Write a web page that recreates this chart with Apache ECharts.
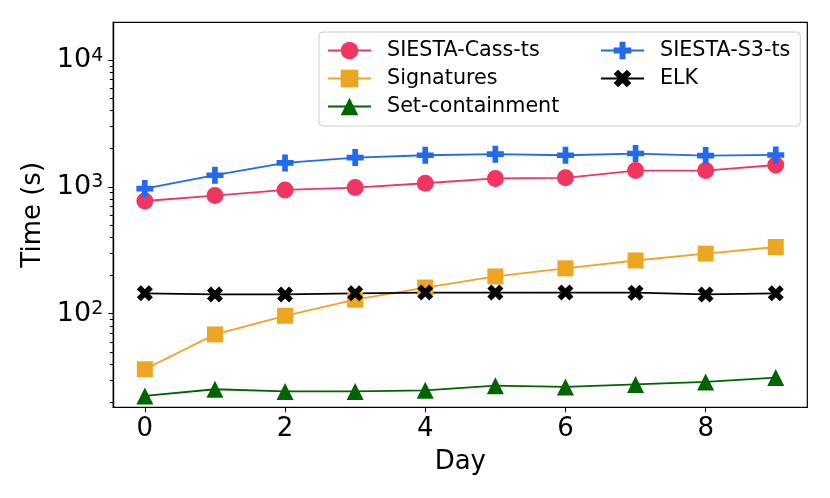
<!DOCTYPE html>
<html>
<head>
<meta charset="utf-8">
<script src="https://cdn.jsdelivr.net/npm/echarts@6/dist/echarts.min.js"></script>
<style>
  html, body { margin: 0; padding: 0; background: #fff; }
  #main { width: 830px; height: 498px; }
</style>
</head>
<body>
<div id="main"></div>
<script>
// values
var days = [0, 1, 2, 3, 4, 5, 6, 7, 8, 9];
var cassTs = [774, 854, 946, 988, 1069, 1167, 1180, 1346, 1346, 1489];
var signatures = [36.5, 68.7, 96.4, 129, 161, 197, 228, 263, 298, 336];
var setContainment = [22.5, 25.4, 24.4, 24.4, 24.9, 27.1, 26.5, 27.7, 29.0, 31.4];
var s3Ts = [970, 1236, 1546, 1704, 1777, 1811, 1777, 1833, 1767, 1786];
var elk = [145, 142, 142, 145, 147, 147, 147, 146.5, 142, 145];

var xTicks = [0, 2, 4, 6, 8];
var yMajor = [100, 1000, 10000];
var yMinor = [20, 30, 40, 50, 60, 70, 80, 90, 200, 300, 400, 500, 600, 700, 800, 900,
  2000, 3000, 4000, 5000, 6000, 7000, 8000, 9000];

var FONT = 'DejaVu Sans';
var PLUS = 'path://M-1,-3L1,-3L1,-1L3,-1L3,1L1,1L1,3L-1,3L-1,1L-3,1L-3,-1L-1,-1Z';
var XFILL = 'path://M-1,-2L0,-1L1,-2L2,-1L1,0L2,1L1,2L0,1L-1,2L-2,1L-1,0L-2,-1Z';

function pairs(vals) {
  return days.map(function (d, i) { return [d, vals[i]]; });
}

function makeSeries(name, vals, color, symbol, size) {
  return {
    name: name,
    type: 'line',
    data: pairs(vals),
    symbol: symbol,
    symbolSize: size,
    showAllSymbol: true,
    lineStyle: { color: color, width: 1.8 },
    itemStyle: { color: color, opacity: 1 },
    emphasis: { disabled: true },
    animation: false
  };
}

var col1 = ['SIESTA-Cass-ts', 'Signatures', 'Set-containment'];

var chart = echarts.init(document.getElementById('main'), null, { renderer: 'canvas' });
chart.setOption({
  backgroundColor: '#fff',
  animation: false,
  grid: {
    left: 113.3, right: 22.7, top: 22.3, bottom: 90.7,
    show: true, borderColor: '#000', borderWidth: 1.2, backgroundColor: 'transparent'
  },
  legend: {
    left: 319, top: 32,
    width: 470,
    orient: 'horizontal',
    padding: [8, 10, 9, 8],
    itemGap: 7,
    itemWidth: 43,
    itemHeight: 22,
    borderColor: '#cccccc',
    borderWidth: 1,
    borderRadius: 4,
    backgroundColor: 'rgba(255,255,255,0.85)',
    data: ['SIESTA-Cass-ts', 'SIESTA-S3-ts', 'Signatures', 'ELK', 'Set-containment'],
    formatter: function (name) {
      return (col1.indexOf(name) >= 0 ? '{a|' : '{b|') + name + '}';
    },
    textStyle: {
      fontFamily: FONT, fontSize: 20.7, color: '#000',
      rich: {
        a: { fontFamily: FONT, fontSize: 20.7, color: '#000', width: 206, lineHeight: 22.5, padding: [0, 0, 0, 11] },
        b: { fontFamily: FONT, fontSize: 20.7, color: '#000', width: 130, lineHeight: 22.5, padding: [0, 0, 0, 11] }
      }
    }
  },
  xAxis: {
    type: 'value',
    min: -0.45, max: 9.45,
    name: 'Day',
    nameLocation: 'middle',
    nameGap: 42,
    nameTextStyle: { fontFamily: FONT, fontSize: 26, color: '#000' },
    axisLine: { show: true, onZero: false, lineStyle: { color: '#000', width: 1.2 } },
    axisTick: { show: true, length: 5, customValues: xTicks, lineStyle: { color: '#000', width: 1 } },
    axisLabel: { customValues: xTicks, margin: 9, fontFamily: FONT, fontSize: 26, color: '#000' },
    splitLine: { show: false }
  },
  yAxis: [{
    type: 'log',
    logBase: 10,
    min: 18.3, max: 19850,
    position: 'left',
    name: 'Time (s)',
    nameLocation: 'middle',
    nameGap: 63,
    nameRotate: 90,
    nameTextStyle: { fontFamily: FONT, fontSize: 26, color: '#000' },
    axisLine: { show: true, onZero: false, lineStyle: { color: '#000', width: 1.2 } },
    axisTick: { show: true, length: 5, customValues: yMajor, lineStyle: { color: '#000', width: 1 } },
    axisLabel: {
      customValues: yMajor,
      margin: 10,
      formatter: function (v) {
        var e = Math.round(Math.log10(v));
        return '{b|10}{s|' + e + '}';
      },
      rich: {
        b: { fontFamily: FONT, fontSize: 27, color: '#000', lineHeight: 28 },
        s: { fontFamily: FONT, fontSize: 19, color: '#000', lineHeight: 19, verticalAlign: 'top' }
      }
    },
    splitLine: { show: false }
  }, {
    // minor ticks of the log axis (2..9 x 10^n), labels left empty
    type: 'log',
    logBase: 10,
    min: 18.3, max: 19850,
    position: 'left',
    axisLine: { show: true, onZero: false, lineStyle: { color: '#000', width: 1.2 } },
    axisTick: { show: true, length: 3.5, customValues: yMinor, lineStyle: { color: '#000', width: 1 } },
    axisLabel: { show: true, customValues: yMinor, formatter: function () { return ''; } },
    splitLine: { show: false }
  }],
  series: [
    makeSeries('SIESTA-Cass-ts', cassTs, '#F03660', 'circle', 17),
    makeSeries('Signatures', signatures, '#EEA522', 'rect', 16),
    makeSeries('Set-containment', setContainment, '#006400', 'triangle', 17),
    makeSeries('SIESTA-S3-ts', s3Ts, '#2169EE', PLUS, 17),
    makeSeries('ELK', elk, '#000000', XFILL, 16)
  ]
});
</script>
</body>
</html>
